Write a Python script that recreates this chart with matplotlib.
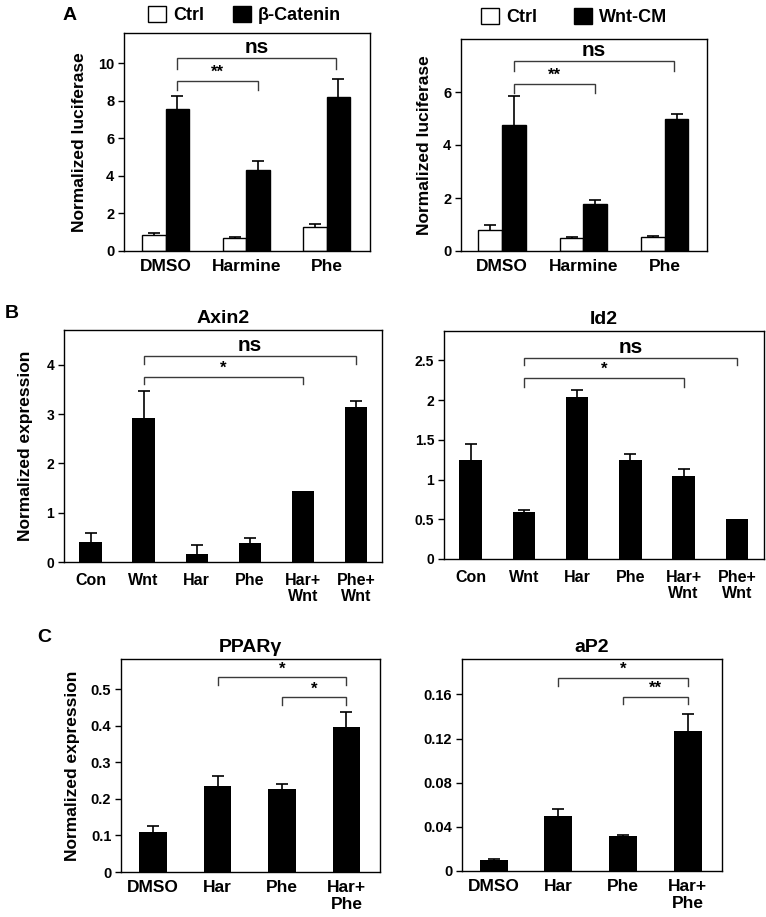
import numpy as np
import matplotlib
matplotlib.use('Agg')
import matplotlib.pyplot as plt
from matplotlib.patches import Patch

plt.rcParams['font.family'] = ['Liberation Sans', 'DejaVu Sans']
plt.rcParams['font.weight'] = 'bold'

# Painel A - luciferase
grupos_a = ['DMSO', 'Harmine', 'Phe']
ctrl_bcat = [0.87, 0.69, 1.28]
ctrl_bcat_err = [0.08, 0.06, 0.18]
bcat = [7.55, 4.33, 8.22]
bcat_err = [0.72, 0.48, 0.95]

ctrl_wnt = [0.81, 0.48, 0.53]
ctrl_wnt_err = [0.19, 0.04, 0.04]
wnt_cm = [4.76, 1.77, 4.97]
wnt_cm_err = [1.10, 0.17, 0.21]

# Painel B - expressao Axin2 / Id2
grupos_b = ['Con', 'Wnt', 'Har', 'Phe', 'Har+\nWnt', 'Phe+\nWnt']
axin2 = [0.40, 2.93, 0.16, 0.38, 1.45, 3.14]
axin2_err = [0.19, 0.54, 0.19, 0.10, 0.0, 0.12]
id2 = [1.25, 0.59, 2.04, 1.25, 1.05, 0.50]
id2_err = [0.20, 0.03, 0.09, 0.07, 0.08, 0.0]

# Painel C - PPARg / aP2
grupos_c = ['DMSO', 'Har', 'Phe', 'Har+\nPhe']
pparg = [0.109, 0.235, 0.227, 0.395]
pparg_err = [0.016, 0.026, 0.013, 0.042]
ap2 = [0.010, 0.050, 0.032, 0.127]
ap2_err = [0.001, 0.006, 0.001, 0.015]

W, H = 766, 917
fig = plt.figure(figsize=(W / 100, H / 100), dpi=100)


def eixo(x0, x1, y0, y1):
    # posicao em pixels -> fracao da figura
    return fig.add_axes([x0 / W, (H - y1) / H, (x1 - x0) / W, (y1 - y0) / H])


def estilo(ax, ytick_fs, xtick_fs, xpad=6):
    for s in ax.spines.values():
        s.set_linewidth(1.0)
        s.set_color('black')
    ax.tick_params(axis='y', direction='out', length=4, width=1, labelsize=ytick_fs, pad=3)
    ax.tick_params(axis='x', length=0, labelsize=xtick_fs, pad=xpad)
    for lab in ax.get_xticklabels() + ax.get_yticklabels():
        lab.set_fontweight('bold')


def colchete(ax, x1, x2, y, queda, texto, fs, gap):
    ax.plot([x1, x1, x2, x2], [y - queda, y, y, y - queda], color='#3a3a3a', lw=1.0,
            solid_joinstyle='miter', clip_on=False)
    ax.text((x1 + x2) / 2, y + gap, texto, ha='center', va='bottom', fontsize=fs,
            fontweight='bold')


def erro_acima(ax, x, v, e):
    # so a parte de cima do erro, sem o cap de baixo
    x = np.asarray(x)
    v = np.asarray(v)
    e = np.asarray(e)
    m = e > 0
    _, caps, _ = ax.errorbar(x[m], v[m], yerr=[np.zeros(m.sum()), e[m]], fmt='none',
                             ecolor='black', elinewidth=1.2, capsize=4, capthick=1.2,
                             zorder=3)
    caps[0].set_visible(False)


def barras_pareadas(ax, grupos, v1, e1, v2, e2, w):
    x = np.arange(len(grupos))
    ax.bar(x - w / 2, v1, w, color='white', edgecolor='black', linewidth=1, zorder=2)
    ax.bar(x + w / 2, v2, w, color='black', edgecolor='black', linewidth=1, zorder=2)
    erro_acima(ax, x - w / 2, v1, e1)
    erro_acima(ax, x + w / 2, v2, e2)
    ax.set_xticks(x)
    ax.set_xticklabels(grupos)
    return x


def barras_simples(ax, grupos, v, e, w):
    x = np.arange(len(grupos))
    ax.bar(x, v, w, color='black', zorder=2)
    erro_acima(ax, x, v, e)
    ax.set_xticks(x)
    ax.set_xticklabels(grupos, linespacing=1.1)
    return x


# ---------- A esquerda ----------
w = 0.29
ax1 = eixo(124, 370, 33, 251)
x = barras_pareadas(ax1, grupos_a, ctrl_bcat, ctrl_bcat_err, bcat, bcat_err, w)
ax1.set_xlim(-0.52, 2.54)
ax1.set_ylim(0, 11.6)
ax1.set_yticks([0, 2, 4, 6, 8, 10])
ax1.set_ylabel('Normalized luciferase', fontsize=12.5, fontweight='bold', labelpad=8)
estilo(ax1, 10.5, 12.5)
colchete(ax1, x[0] + w / 2, x[2] + w * 0.4, 10.25, 0.57, 'ns', 15, 0.05)
colchete(ax1, x[0] + w / 2, x[1] + w / 2, 9.06, 0.5, '**', 12, 0.05)
ax1.legend(handles=[Patch(facecolor='white', edgecolor='black'),
                    Patch(facecolor='black', edgecolor='black')],
           labels=['Ctrl', 'β-Catenin'], loc='lower center', bbox_to_anchor=(0.49, 1.0),
           ncol=2, frameon=False, fontsize=13, handlelength=1.0, handleheight=1.0,
           handletextpad=0.4, columnspacing=1.6, borderaxespad=0.1)
fig.text(70 / W, 1 - 16 / H, 'A', fontsize=14, fontweight='bold', ha='center', va='center')

# ---------- A direita ----------
ax2 = eixo(461, 707, 39, 251)
x = barras_pareadas(ax2, grupos_a, ctrl_wnt, ctrl_wnt_err, wnt_cm, wnt_cm_err, w)
ax2.set_xlim(-0.505, 2.52)
ax2.set_ylim(0, 8.0)
ax2.set_yticks([0, 2, 4, 6])
ax2.set_ylabel('Normalized luciferase', fontsize=12.5, fontweight='bold', labelpad=8)
estilo(ax2, 10.5, 12.5)
colchete(ax2, x[0] + w / 2, x[2] + w * 0.4, 7.18, 0.4, 'ns', 15, 0.04)
colchete(ax2, x[0] + w / 2, x[1] + w / 2, 6.3, 0.34, '**', 12, 0.04)
ax2.legend(handles=[Patch(facecolor='white', edgecolor='black'),
                    Patch(facecolor='black', edgecolor='black')],
           labels=['Ctrl', 'Wnt-CM'], loc='lower center', bbox_to_anchor=(0.46, 1.0),
           ncol=2, frameon=False, fontsize=13, handlelength=1.0, handleheight=1.0,
           handletextpad=0.4, columnspacing=2.0, borderaxespad=0.3)

# ---------- B esquerda ----------
wb = 0.42
ax3 = eixo(64, 382, 330, 562)
x = barras_simples(ax3, grupos_b, axin2, axin2_err, wb)
ax3.set_xlim(-0.5, 5.49)
ax3.set_ylim(0, 4.71)
ax3.set_yticks([0, 1, 2, 3, 4])
ax3.set_ylabel('Normalized expression', fontsize=12.5, fontweight='bold', labelpad=10)
ax3.set_title('Axin2', fontsize=14, fontweight='bold', pad=5)
estilo(ax3, 10, 11.5, xpad=8)
colchete(ax3, x[1], x[5], 4.18, 0.17, 'ns', 15, 0.02)
colchete(ax3, x[1], x[4], 3.76, 0.15, '*', 12, 0.02)
fig.text(12 / W, 1 - 314 / H, 'B', fontsize=14, fontweight='bold', ha='center', va='center')

# ---------- B direita ----------
ax4 = eixo(444, 764, 331, 559)
x = barras_simples(ax4, grupos_b, id2, id2_err, wb)
ax4.set_xlim(-0.5, 5.51)
ax4.set_ylim(0, 2.87)
ax4.set_yticks([0, 0.5, 1, 1.5, 2, 2.5])
ax4.set_yticklabels(['0', '0.5', '1', '1.5', '2', '2.5'])
ax4.set_title('Id2', fontsize=14, fontweight='bold', pad=5)
estilo(ax4, 10, 11.5, xpad=8)
colchete(ax4, x[1], x[5], 2.53, 0.09, 'ns', 15, 0.01)
colchete(ax4, x[1], x[4], 2.28, 0.11, '*', 12, 0.01)

# ---------- C esquerda ----------
wc = 0.43
ax5 = eixo(121, 380, 659, 872)
x = barras_simples(ax5, grupos_c, pparg, pparg_err, wc)
ax5.set_xlim(-0.5, 3.52)
ax5.set_ylim(0, 0.582)
ax5.set_yticks([0, 0.1, 0.2, 0.3, 0.4, 0.5])
ax5.set_yticklabels(['0', '0.1', '0.2', '0.3', '0.4', '0.5'])
ax5.set_ylabel('Normalized expression', fontsize=12.5, fontweight='bold', labelpad=8)
ax5.set_title('PPARγ', fontsize=14, fontweight='bold', pad=5)
estilo(ax5, 10.5, 12.5)
colchete(ax5, x[1], x[3], 0.532, 0.021, '*', 12, 0.002)
colchete(ax5, x[2], x[3], 0.477, 0.021, '*', 12, 0.002)
fig.text(44 / W, 1 - 638 / H, 'C', fontsize=14, fontweight='bold', ha='center', va='center')

# ---------- C direita ----------
ax6 = eixo(462, 722, 659, 871)
x = barras_simples(ax6, grupos_c, ap2, ap2_err, wc)
ax6.set_xlim(-0.49, 3.53)
ax6.set_ylim(0, 0.192)
ax6.set_yticks([0, 0.04, 0.08, 0.12, 0.16])
ax6.set_yticklabels(['0', '0.04', '0.08', '0.12', '0.16'])
ax6.set_title('aP2', fontsize=14, fontweight='bold', pad=5)
estilo(ax6, 10.5, 12.5)
colchete(ax6, x[1], x[3], 0.175, 0.007, '*', 12, 0.0007)
colchete(ax6, x[2], x[3], 0.158, 0.007, '**', 12, 0.0007)

fig.savefig('out.png', dpi=100)
